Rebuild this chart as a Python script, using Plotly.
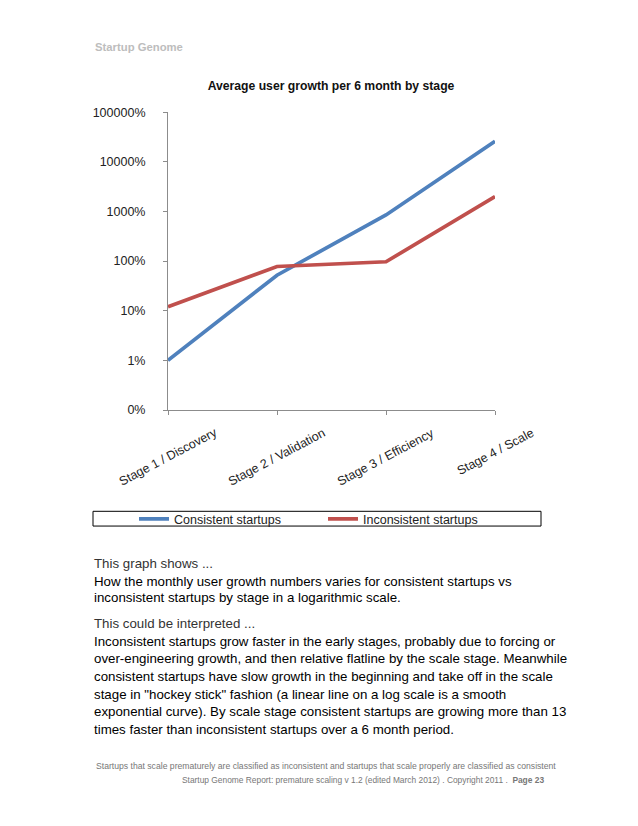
import plotly.graph_objects as go

# ---- data ----
stages = ["Stage 1 / Discovery", "Stage 2 / Validation", "Stage 3 / Efficiency", "Stage 4 / Scale"]
consistent = [1, 52, 850, 26000]        # percent
inconsistent = [12, 78, 97, 2000]       # percent
y_tickvals = [0.1, 1, 10, 100, 1000, 10000, 100000]
y_ticktext = ["0%", "1%", "10%", "100%", "1000%", "10000%", "100000%"]

W, H = 638, 826
BLUE = "#4F81BD"
RED = "#C0504D"
FONT = "Liberation Sans, Arial, Helvetica, sans-serif"

def px(x):
    return x / W

def py(y):
    return 1 - y / H

fig = go.Figure()
fig.add_trace(go.Scatter(x=stages, y=consistent, mode="lines", name="Consistent startups",
                         line=dict(color=BLUE, width=3.7)))
fig.add_trace(go.Scatter(x=stages, y=inconsistent, mode="lines", name="Inconsistent startups",
                         line=dict(color=RED, width=3.7)))

fig.update_layout(
    width=W, height=H,
    margin=dict(l=0, r=0, t=0, b=0),
    paper_bgcolor="white", plot_bgcolor="white",
    font=dict(family=FONT, size=12.5, color="#222"),
    title=dict(text="<b>Average user growth per 6 month by stage</b>",
               font=dict(family=FONT, size=12.2, color="#111"),
               x=px(331), xanchor="center", xref="paper",
               y=py(86), yanchor="middle", yref="container"),
    xaxis=dict(domain=[px(168), px(495)], type="category", range=[0, 3],
               showgrid=False, zeroline=False, showline=True, linecolor="#8c8c8c", linewidth=1,
               ticks="outside", ticklen=4, tickcolor="#8c8c8c", showticklabels=False),
    yaxis=dict(domain=[py(410), py(107)], type="log", range=[-1, 5],
               tickvals=y_tickvals, ticktext=y_ticktext,
               showgrid=False, zeroline=False, showline=True, linecolor="#8c8c8c", linewidth=1,
               ticks="outside", ticklen=4, tickcolor="#8c8c8c", ticklabelstandoff=15,
               tickfont=dict(family=FONT, size=12.5, color="#222")),
    legend=dict(orientation="h", x=px(134), xanchor="left", y=py(521), yanchor="middle",
                font=dict(family=FONT, size=12.5, color="#222"), bgcolor="rgba(0,0,0,0)",
                borderwidth=0, entrywidth=144, itemwidth=30, tracegroupgap=0),
    showlegend=True,
)

# legend frame
fig.add_shape(type="rect", xref="paper", yref="paper",
              x0=px(93), x1=px(541), y0=py(528), y1=py(513),
              line=dict(color="black", width=1), fillcolor="rgba(0,0,0,0)")

# rotated category labels
for s in stages:
    fig.add_annotation(x=s, xref="x", y=py(423), yref="paper", text=s, showarrow=False,
                       textangle=-28, xanchor="center", yanchor="top",
                       font=dict(family=FONT, size=12.5, color="#222"))

# header
fig.add_annotation(x=px(93), y=py(41), xref="paper", yref="paper", xanchor="left", yanchor="middle",
                   text="<b>Startup Genome</b>", showarrow=False,
                   font=dict(family=FONT, size=11.3, color="#bdbdbd"))

# body text
body = [
    ("This graph shows ...", 562, "#333"),
    ("How the monthly user growth numbers varies for consistent startups vs", 580, "#000"),
    ("inconsistent startups by stage in a logarithmic scale.", 597, "#000"),
    ("This could be interpreted ...", 623, "#333"),
    ("Inconsistent startups grow faster in the early stages, probably due to forcing or", 641, "#000"),
    ("over-engineering growth, and then relative flatline by the scale stage. Meanwhile", 659, "#000"),
    ("consistent startups have slow growth in the beginning and take off in the scale", 677, "#000"),
    ("stage in \"hockey stick\" fashion (a linear line on a log scale is a smooth", 695, "#000"),
    ("exponential curve). By scale stage consistent startups are growing more than 13", 713, "#000"),
    ("times faster than inconsistent startups over a 6 month period.", 731, "#000"),
]
for t, yy, c in body:
    fig.add_annotation(x=px(92), y=py(yy + 4), xref="paper", yref="paper", xanchor="left", yanchor="middle",
                       text=t, showarrow=False, font=dict(family=FONT, size=13.3, color=c))

# footer
fig.add_annotation(x=px(558), y=py(772), xref="paper", yref="paper", xanchor="right", yanchor="middle",
                   text="Startups that scale prematurely are classified as inconsistent and startups that scale properly are classified as consistent",
                   showarrow=False, font=dict(family=FONT, size=8.65, color="#777"))
fig.add_annotation(x=px(546), y=py(786), xref="paper", yref="paper", xanchor="right", yanchor="middle",
                   text="Startup Genome Report: premature scaling v 1.2 (edited March 2012) . Copyright 2011 .  <b>Page 23</b>",
                   showarrow=False, font=dict(family=FONT, size=8.4, color="#777"))

fig.write_html("out.html", config={"displayModeBar": False},
               post_script="document.body.style.margin='0';")
